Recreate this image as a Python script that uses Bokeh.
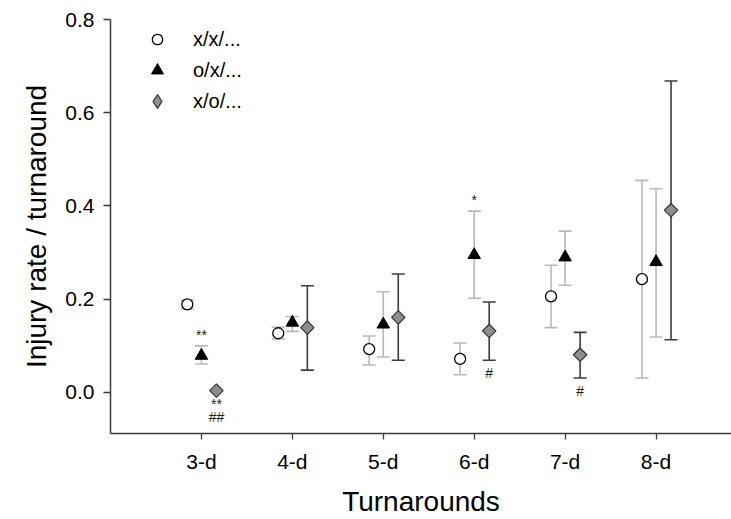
import numpy as np
from bokeh.plotting import figure
from bokeh.models import (ColumnDataSource, Whisker, TeeHead, FixedTicker,
                          PrintfTickFormatter, Legend, LegendItem, Range1d)
from bokeh.core.properties import value
from bokeh.embed import file_html
from bokeh.resources import INLINE

# ---------------- data ----------------
categories = ["3-d", "4-d", "5-d", "6-d", "7-d", "8-d"]
cat_pos = [3, 4, 5, 6, 7, 8]

series_names = ["x/x/...", "o/x/...", "x/o/..."]

xx_mean = [0.189, 0.127, 0.093, 0.072, 0.206, 0.243]
xx_low = [0.179, 0.115, 0.059, 0.038, 0.139, 0.031]
xx_high = [0.198, 0.140, 0.121, 0.106, 0.273, 0.455]

ox_mean = [0.079, 0.150, 0.146, 0.295, 0.290, 0.280]
ox_low = [0.061, 0.131, 0.076, 0.202, 0.230, 0.119]
ox_high = [0.100, 0.163, 0.216, 0.389, 0.346, 0.437]

xo_mean = [0.004, 0.139, 0.161, 0.132, 0.081, 0.391]
xo_low = [0.004, 0.048, 0.069, 0.069, 0.031, 0.113]
xo_high = [0.004, 0.229, 0.254, 0.194, 0.129, 0.668]

# significance marks: category, series index, text, side, stacking level
ann_cat = ["3-d", "3-d", "3-d", "6-d", "6-d", "7-d"]
ann_series = [1, 2, 2, 1, 2, 2]
ann_text = ["**", "**", "##", "*", "#", "#"]
ann_side = ["above", "below", "below", "above", "below", "below"]
ann_level = [1, 1, 2, 1, 1, 1]

y_ticks = [0.0, 0.2, 0.4, 0.6, 0.8]

# ---------------- styling ----------------
FONT = "Liberation Sans"
AXIS_COL = "#3a3a3a"
offsets = [-0.155, 0.0, 0.165]

p = figure(width=731, height=519, output_backend="svg", toolbar_location=None,
           x_range=Range1d(2.0, 8.83), y_range=Range1d(-0.088, 0.8),
           min_border_left=110, min_border_right=0, min_border_top=19,
           min_border_bottom=85)
p.outline_line_color = None
p.xgrid.visible = False
p.ygrid.visible = False
p.background_fill_color = "white"
p.border_fill_color = "white"

means = [xx_mean, ox_mean, xo_mean]
lows = [xx_low, ox_low, xo_low]
highs = [xx_high, ox_high, xo_high]
err_cols = ["#b8b8b8", "#b8b8b8", "#3c3c3c"]

sources = []
for i in range(3):
    xs = [c + offsets[i] for c in cat_pos]
    src = ColumnDataSource(dict(x=xs, y=means[i], lower=lows[i], upper=highs[i]))
    sources.append(src)
    keep = [j for j in range(len(xs)) if highs[i][j] > lows[i][j]]
    wsrc = ColumnDataSource(dict(x=[xs[j] for j in keep],
                                 lower=[lows[i][j] for j in keep],
                                 upper=[highs[i][j] for j in keep]))
    w = Whisker(source=wsrc, base="x", lower="lower", upper="upper",
                line_color=err_cols[i], line_width=1.6, level="underlay",
                upper_head=TeeHead(size=13, line_color=err_cols[i], line_width=1.6),
                lower_head=TeeHead(size=13, line_color=err_cols[i], line_width=1.6))
    p.add_layout(w)

r_xx = p.scatter("x", "y", source=sources[0], marker="circle", size=11,
                 fill_color="white", line_color="black", line_width=1.3)
r_ox = p.scatter("x", "y", source=sources[1], marker="triangle", size=12.5,
                 fill_color="black", line_color="black", line_width=1)
r_xo = p.scatter("x", "y", source=sources[2], marker="square", size=9.5,
                 angle=np.pi / 4, fill_color="#8e8e8e", line_color="#333333",
                 line_width=1.2)
# legend-only proxy (legend glyphs are drawn unrotated); its point is NaN so
# nothing is drawn in the plot area
r_xo_leg = p.scatter(x=[np.nan], y=[np.nan], marker="diamond",
                     fill_color="#8e8e8e", line_color="#333333", line_width=1.2)

# annotations anchored to the error-bar ends
ax, ay, ayo = [], [], []
for c, s, t, side, lvl in zip(ann_cat, ann_series, ann_text, ann_side, ann_level):
    j = categories.index(c)
    ax.append(cat_pos[j] + offsets[s])
    if side == "above":
        ay.append(highs[s][j])
        ayo.append(-11 * lvl)
    else:
        ay.append(lows[s][j])
        ayo.append(13 * lvl)
asrc = ColumnDataSource(dict(x=ax, y=ay, t=ann_text, yo=ayo))
p.text("x", "y", text="t", source=asrc, y_offset="yo", text_align="center",
       text_baseline="middle", text_font=value(FONT), text_font_size="14px",
       text_color="#1a1a1a")

# axes
p.xaxis.ticker = FixedTicker(ticks=cat_pos)
p.xaxis.major_label_overrides = {c: l for c, l in zip(cat_pos, categories)}
p.yaxis.ticker = FixedTicker(ticks=y_ticks)
p.yaxis.formatter = PrintfTickFormatter(format="%.1f")
for ax_ in (p.xaxis[0], p.yaxis[0]):
    ax_.axis_line_color = AXIS_COL
    ax_.axis_line_width = 1.5
    ax_.major_tick_line_color = AXIS_COL
    ax_.major_tick_line_width = 1.3
    ax_.major_tick_in = 0
    ax_.minor_tick_line_color = None
    ax_.major_label_text_font = FONT
    ax_.major_label_text_font_size = "21px"
    ax_.major_label_text_color = "black"
    ax_.axis_label_text_font = FONT
    ax_.axis_label_text_font_size = "28px"
    ax_.axis_label_text_font_style = "normal"
    ax_.axis_label_text_color = "black"
p.yaxis.major_tick_out = 7
p.xaxis.major_tick_out = 6
p.yaxis.major_label_standoff = 9
p.xaxis.major_label_standoff = 10
p.yaxis.axis_label = "Injury rate / turnaround"
p.xaxis.axis_label = "Turnarounds"
p.yaxis.axis_label_standoff = 10
p.xaxis.axis_label_standoff = 10

# legend: one block per entry so each marker gets its own size
FRAME_LEFT, FRAME_BOTTOM = 110, 434
leg_cx, leg_label_x = 157, 193
leg_rows = [40, 71, 102]
leg_glyph = [26, 30, 34]
for name, rend, cy, g in zip(series_names, [r_xx, r_ox, r_xo_leg], leg_rows, leg_glyph):
    lg = Legend(items=[LegendItem(label=name, renderers=[rend])],
                location=(leg_cx - g / 2 - FRAME_LEFT, FRAME_BOTTOM - (cy + g / 2)),
                padding=0, margin=0, glyph_width=g, glyph_height=g,
                label_height=g, label_standoff=int(leg_label_x - (leg_cx + g / 2)),
                border_line_color=None, background_fill_alpha=0,
                label_text_font=FONT, label_text_font_size="20px",
                label_text_color="black")
    p.add_layout(lg)

open("out.html", "w").write(file_html(p, INLINE))
